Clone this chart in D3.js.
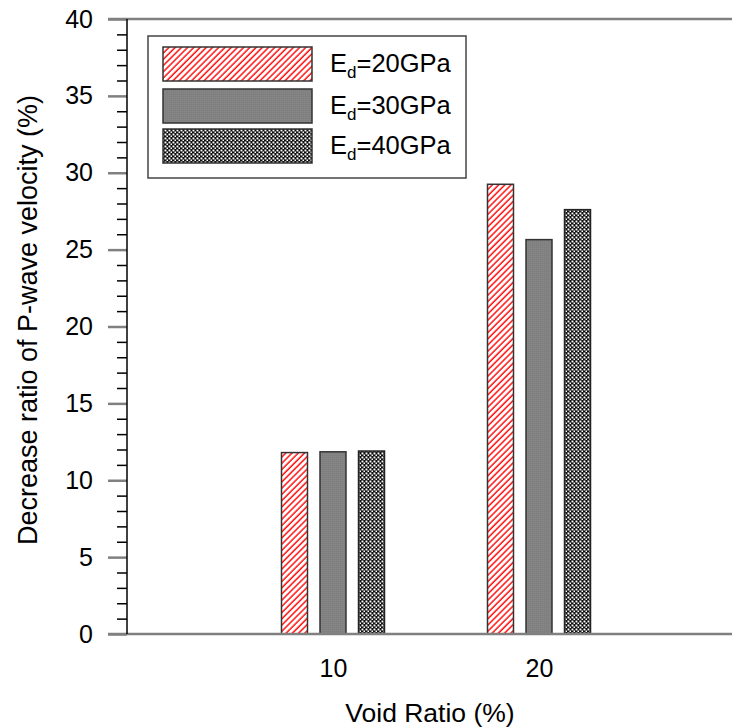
<!DOCTYPE html>
<html>
<head>
<meta charset="utf-8">
<script src="https://cdn.jsdelivr.net/npm/d3@7"></script>
<style>
  body { margin: 0; background: #fff; }
  text { font-family: "Liberation Sans", Arial, sans-serif; }
</style>
</head>
<body>
<div id="chart"></div>
<script>
// data
var voidRatios = [10, 20];
var seriesNames = ["Ed=20GPa", "Ed=30GPa", "Ed=40GPa"];
var seriesSubs = ["20GPa", "30GPa", "40GPa"];
var ed20 = [11.8, 29.25];
var ed30 = [11.85, 25.65];
var ed40 = [11.9, 27.6];
var yTicks = [0, 5, 10, 15, 20, 25, 30, 35, 40];

var seriesValues = [ed20, ed30, ed40];

var W = 732, H = 727;
var svg = d3.select("#chart")
  .append("svg")
    .attr("width", W)
    .attr("height", H);

var defs = svg.append("defs");

// red diagonal hatch
var p1 = defs.append("pattern")
  .attr("id", "hatchRed")
  .attr("patternUnits", "userSpaceOnUse")
  .attr("width", 4.4).attr("height", 4.4)
  .attr("patternTransform", "rotate(45)");
p1.append("rect").attr("width", 4.4).attr("height", 4.4).attr("fill", "#fff");
p1.append("line")
  .attr("x1", 1).attr("x2", 1).attr("y1", 0).attr("y2", 4.4)
  .attr("stroke", "#f00").attr("stroke-width", 1.4);

// gray fill
var p2 = defs.append("pattern")
  .attr("id", "grayFill")
  .attr("patternUnits", "userSpaceOnUse")
  .attr("width", 2).attr("height", 2);
p2.append("rect").attr("width", 2).attr("height", 2).attr("fill", "#808080");
p2.append("rect").attr("width", 1).attr("height", 1).attr("fill", "#888");

// checker / crosshatch
var p3 = defs.append("pattern")
  .attr("id", "checker")
  .attr("patternUnits", "userSpaceOnUse")
  .attr("width", 4).attr("height", 4);
p3.append("rect").attr("width", 4).attr("height", 4).attr("fill", "#111");
p3.append("rect").attr("x", 0.5).attr("y", 0.5).attr("width", 1.9).attr("height", 1.9).attr("fill", "#fff");
p3.append("rect").attr("x", 2.5).attr("y", 2.5).attr("width", 1.9).attr("height", 1.9).attr("fill", "#fff");

var fills = ["url(#hatchRed)", "url(#grayFill)", "url(#checker)"];
var strokes = ["#333", "#333", "#222"];

// scales
var y = d3.scaleLinear().domain([0, 40]).range([634, 19]);
var x = d3.scaleLinear().domain([0, 30]).range([127, 745]);
var inner = d3.scaleBand()
  .domain(d3.range(seriesNames.length))
  .range([-51.5, 51.5])
  .paddingInner(0.325)
  .paddingOuter(0);

// top gray line
svg.append("line")
  .attr("x1", 108).attr("x2", W).attr("y1", y(40)).attr("y2", y(40))
  .attr("stroke", "#808080").attr("stroke-width", 2.5);

// bars
var groups = svg.selectAll("g.grp")
  .data(voidRatios)
  .enter()
  .append("g")
    .attr("class", "grp")
    .attr("transform", function(d) { return "translate(" + x(d) + ",0)"; });

groups.selectAll("rect")
  .data(function(d, i) {
    return seriesValues.map(function(s, k) { return {k: k, v: s[i]}; });
  })
  .enter()
  .append("rect")
    .attr("x", function(d) { return inner(d.k); })
    .attr("width", inner.bandwidth())
    .attr("y", function(d) { return y(d.v); })
    .attr("height", function(d) { return y(0) - y(d.v); })
    .attr("fill", function(d) { return fills[d.k]; })
    .attr("stroke", function(d) { return strokes[d.k]; })
    .attr("stroke-width", 1.5);

// bottom line
svg.append("line")
  .attr("x1", 108).attr("x2", W).attr("y1", y(0)).attr("y2", y(0))
  .attr("stroke", "#808080").attr("stroke-width", 2.5);

// Y axis minor ticks
var minor = d3.range(0, 41).filter(function(v) { return v % 5 !== 0; });
var yMinor = svg.append("g")
  .attr("transform", "translate(127,0)")
  .call(d3.axisLeft(y).tickValues(minor).tickSize(10).tickFormat(""));
yMinor.select(".domain").remove();
yMinor.selectAll("line").attr("stroke", "#000").attr("stroke-width", 1.5);

// Y axis major ticks
var yAxis = svg.append("g")
  .attr("transform", "translate(127,0)")
  .call(d3.axisLeft(y).tickValues(yTicks).tickSize(19).tickPadding(15));
yAxis.select(".domain").remove();
yAxis.selectAll("line").attr("stroke", "#808080").attr("stroke-width", 2.5);
yAxis.selectAll("text")
  .attr("font-size", "25px")
  .attr("font-family", "Liberation Sans, Arial, sans-serif")
  .attr("fill", "#000");

// Y axis line
svg.append("line")
  .attr("x1", 127).attr("x2", 127).attr("y1", y(40)).attr("y2", y(0))
  .attr("stroke", "#000").attr("stroke-width", 1.5);

// X axis labels
var xAxis = svg.append("g")
  .attr("transform", "translate(0," + y(0) + ")")
  .call(d3.axisBottom(x).tickValues(voidRatios).tickSize(0).tickPadding(25));
xAxis.select(".domain").remove();
xAxis.selectAll("text")
  .attr("font-size", "25px")
  .attr("font-family", "Liberation Sans, Arial, sans-serif")
  .attr("fill", "#000");

// X axis title
svg.append("text")
  .attr("x", 430)
  .attr("y", 722)
  .attr("text-anchor", "middle")
  .attr("font-size", "26.5px")
  .text("Void Ratio (%)");

// Y axis title
svg.append("text")
  .attr("transform", "translate(37,320) rotate(-90)")
  .attr("text-anchor", "middle")
  .attr("font-size", "27px")
  .text("Decrease ratio of P-wave velocity (%)");

// legend
var legend = svg.append("g");
legend.append("rect")
  .attr("x", 148).attr("y", 36)
  .attr("width", 318).attr("height", 142)
  .attr("fill", "#fff")
  .attr("stroke", "#444")
  .attr("stroke-width", 1.5);

var rowY = [47, 89, 129];
var items = legend.selectAll("g.item")
  .data(seriesNames)
  .enter()
  .append("g")
    .attr("class", "item")
    .attr("transform", function(d, i) { return "translate(0," + rowY[i] + ")"; });

items.append("rect")
  .attr("x", 163).attr("y", 0)
  .attr("width", 149).attr("height", 34)
  .attr("fill", function(d, i) { return fills[i]; })
  .attr("stroke", "#333")
  .attr("stroke-width", 1.5);

var lt = items.append("text")
  .attr("x", 330).attr("y", 25)
  .attr("font-size", "25.5px");
lt.append("tspan").text("E");
lt.append("tspan")
  .attr("font-size", "17px")
  .attr("dy", 6)
  .text("d");
lt.append("tspan")
  .attr("dy", -6)
  .text(function(d, i) { return "=" + seriesSubs[i]; });
</script>
</body>
</html>
